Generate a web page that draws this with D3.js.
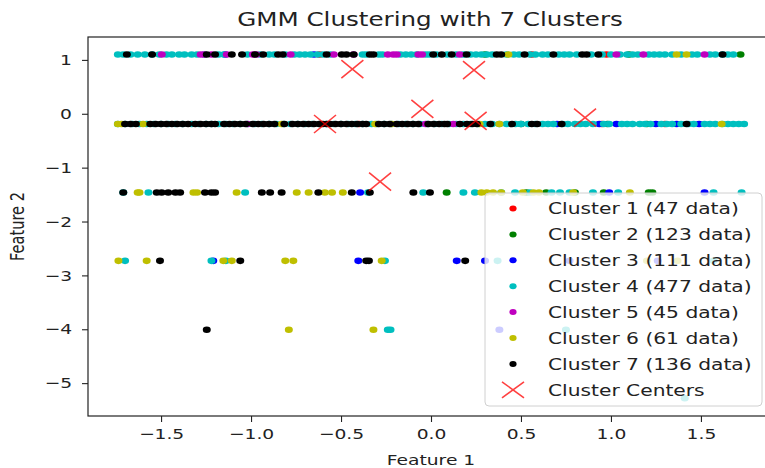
<!DOCTYPE html>
<html>
<head>
<meta charset="utf-8">
<script src="https://cdn.jsdelivr.net/npm/d3@7"></script>
<style>
  html, body { margin: 0; padding: 0; background: #fff; }
  svg { display: block; font-family: "DejaVu Sans", sans-serif; }
</style>
</head>
<body>
<svg id="chart" width="765" height="468"></svg>
<script>
// y value of each horizontal band of points
var rowY = [1.10, -0.19, -1.46, -2.73, -4.01, -5.28];

var clusterNames = ["Cluster 1", "Cluster 2", "Cluster 3", "Cluster 4", "Cluster 5", "Cluster 6", "Cluster 7"];
var clusterCounts = [47, 123, 111, 477, 45, 61, 136];
var clusterColors = ["#ff0000", "#008000", "#0000ff", "#00bfbf", "#bf00bf", "#bfbf00", "#000000"];

// x values of each cluster's points, one list per band (rowY)
var cluster1 = [
  [-0.62, 0.56, 0.975],
  [-0.40, 0.95, 1.30],
  [], [], [], []
];
var cluster2 = [
  [0.30, 1.10, 1.72],
  [0.50, 0.98, 1.20],
  [0.087, 0.53, 0.64, 0.80, 0.96, 1.21, 1.23],
  [], [], []
];
var cluster3 = [
  [-1.144, -0.65],
  [0.70, 0.935, 1.03, 1.25, 1.365, 1.49],
  [-0.394, 0.99, 1.52],
  [-1.21, -0.404, 0.143, 0.30, 0.77, 1.26],
  [0.38],
  []
];
var cluster4 = [
  [-1.74, -1.71, -1.67, -1.63, -1.59, -1.55, -1.51, -1.47, -1.44, -1.40, -1.37, -1.33, -1.30, -1.26,
   -1.18, -1.15, -1.02, -0.95, -0.90, -0.87, -0.81, -0.76, -0.73, -0.70, -0.67, -0.63, -0.60, -0.56,
   -0.38, -0.36, -0.29, -0.27, -0.17, -0.14, -0.11, -0.08, -0.03, -0.01, 0.03, 0.09, 0.14, 0.18, 0.22,
   0.25, 0.28, 0.31, 0.34, 0.42, 0.46, 0.49, 0.55, 0.58, 0.62, 0.65, 0.71, 0.74, 0.77, 0.81, 0.89,
   0.95, 1.00, 1.05, 1.09, 1.12, 1.15, 1.21, 1.24, 1.27, 1.30, 1.34, 1.39, 1.45, 1.48, 1.55, 1.58,
   1.62, 1.65, 1.68],
  [-1.74, -1.70, -1.66, -1.62, -1.58, -1.54, -1.50, -1.46, -1.42, -1.38, -1.33, -1.29, -1.25, -1.22,
   -1.18, -1.14, -1.10, -1.06, -1.02, -0.98, -0.94, -0.90, -0.86, -0.82, -0.78, -0.74, -0.70, -0.66,
   -0.62, -0.58, -0.54, -0.50, -0.46, -0.42, -0.38, -0.33, -0.30, -0.26, -0.22, -0.18, -0.14, -0.10,
   -0.06, -0.02, 0.02, 0.06, 0.10, 0.14, 0.18, 0.22, 0.26, 0.30, 0.34, 0.38, 0.42, 0.47, 0.50, 0.54,
   0.58, 0.62, 0.65, 0.68, 0.73, 0.76, 0.80, 0.83, 0.86, 0.90, 0.96, 0.99, 1.06, 1.09, 1.12, 1.16,
   1.19, 1.22, 1.28, 1.31, 1.34, 1.39, 1.43, 1.46, 1.52, 1.55, 1.58, 1.62, 1.65, 1.68, 1.71, 1.74],
  [-1.71, -1.57, -1.033, -0.35, -0.043, 0.18, 0.244, 0.39, 0.467, 0.55, 0.67, 0.717, 0.77, 0.90,
   1.04, 1.57, 1.726],
  [-1.70, -1.22, -1.14, -0.256, 0.37, 1.57],
  [-0.24, -0.225, 0.75],
  [1.41]
];
var cluster5 = [
  [-1.496, -1.28, -1.26, -1.22, -1.135, -0.99, -0.97, -0.78, -0.54, -0.43, -0.24, -0.21, -0.19,
   -0.07, -0.05, 0.16, 1.03, 1.18, 1.52],
  [-1.02, -0.03, 0.124],
  [], [], [], []
];
var cluster6 = [
  [0.43, 1.365, 1.42],
  [-1.74, -1.72, -1.60, -0.83, -0.31, -0.22, 0.27, 0.38, 1.615],
  [-1.63, -1.62, -1.32, -1.30, -1.08, -0.746, -0.68, -0.59, -0.55, -0.49, 0.28, 0.31, 0.345, 0.39,
   0.51, 0.57, 0.60, 0.79, 1.105],
  [-1.737, -1.58, -1.154, -1.107, -0.81, -0.765, -0.274, 1.20, 1.37],
  [-0.79, -0.32],
  []
];
var cluster7 = [
  [-1.69, -1.55, -1.246, -1.20, -1.107, -1.05, -0.978, -0.933, -0.85, -0.824, -0.58, -0.496, -0.47,
   -0.43, -0.34, -0.32, 0.012, 0.06, 0.115, 0.198, 0.365, 0.39, 0.52, 0.68, 0.84, 0.865, 0.93, 1.62],
  [-1.70, -1.67, -1.64, -1.56, -1.53, -1.50, -1.47, -1.44, -1.41, -1.38, -1.35, -1.31, -1.28, -1.25,
   -1.22, -1.20, -1.15, -1.12, -1.09, -1.06, -1.03, -0.99, -0.96, -0.93, -0.90, -0.87, -0.815, -0.77,
   -0.74, -0.71, -0.68, -0.65, -0.62, -0.60, -0.58, -0.56, -0.53, -0.50, -0.47, -0.44, -0.41, -0.38,
   -0.36, -0.29, -0.26, -0.23, -0.19, -0.16, -0.13, -0.10, -0.07, -0.015, 0.015, 0.045, 0.075, 0.09,
   0.16, 0.20, 0.23, 0.255, 0.33, 0.45, 0.56, 0.59, 0.726, 1.42],
  [-1.71, -1.524, -1.497, -1.46, -1.42, -1.394, -1.256, -1.22, -1.20, -0.94, -0.894, -0.83, -0.626,
   -0.44, -0.34, -0.098, -0.006],
  [-1.506, -1.06, -0.36, -0.345, 0.19],
  [-1.246],
  []
];
var clusters = [cluster1, cluster2, cluster3, cluster4, cluster5, cluster6, cluster7];

// GMM means
var centerX = [-0.437, 0.239, -0.048, 0.248, -0.589, 0.856, -0.283];
var centerY = [0.83, 0.81, 0.09, -0.13, -0.19, -0.07, -1.26];

var xTicks = [-1.5, -1.0, -0.5, 0.0, 0.5, 1.0, 1.5];
var yTicks = [1, 0, -1, -2, -3, -4, -5];

// the picture is a bit wider than tall, so text and dots are stretched sideways
var sx = 1.28;
var plotLeft = 88, plotRight = 774, plotTop = 37, plotBottom = 416;

var svg = d3.select("#chart");

var x = d3.scaleLinear().domain([-1.906, 1.906]).range([plotLeft, plotRight]);
var y = d3.scaleLinear().domain([-5.61, 1.425]).range([plotBottom, plotTop]);

var fmtMinus = function (s) { return s.replace("-", "\u2212"); };

// points, cluster 1 first so cluster 7 ends up on top
clusters.forEach(function (rows, ci) {
    var pts = [];
    rows.forEach(function (xs, ri) {
        xs.forEach(function (v) { pts.push([v, rowY[ri]]); });
    });
    svg.append("g")
        .selectAll("ellipse")
        .data(pts)
        .enter().append("ellipse")
        .attr("cx", function (d) { return x(d[0]); })
        .attr("cy", function (d) { return y(d[1]); })
        .attr("rx", 4.0)
        .attr("ry", 3.3)
        .style("fill", clusterColors[ci]);
});

// cluster centers
function drawCross(g, cx, cy, hx, hy) {
    g.append("path")
        .attr("d", "M" + (cx - hx) + "," + (cy - hy) + "L" + (cx + hx) + "," + (cy + hy) +
                   "M" + (cx - hx) + "," + (cy + hy) + "L" + (cx + hx) + "," + (cy - hy))
        .style("stroke", "#ff0000")
        .style("stroke-opacity", 0.75)
        .style("stroke-width", 1.6)
        .style("fill", "none");
}
var centers = svg.append("g");
centerX.forEach(function (cx, i) {
    drawCross(centers, x(cx), y(centerY[i]), 11, 9);
});

// axes
var xAxis = svg.append("g")
    .attr("transform", "translate(0," + plotBottom + ")")
    .call(d3.axisBottom(x).tickValues(xTicks).tickSizeOuter(0).tickSize(6).tickPadding(7)
        .tickFormat(function (d) { return fmtMinus(d3.format(".1f")(d)); }));
var yAxis = svg.append("g")
    .attr("transform", "translate(" + plotLeft + ",0)")
    .call(d3.axisLeft(y).tickValues(yTicks).tickSizeOuter(0).tickSize(6).tickPadding(10)
        .tickFormat(function (d) { return fmtMinus(d3.format("d")(d)); }));

[xAxis, yAxis].forEach(function (a) {
    a.selectAll(".domain").remove();
    a.selectAll("line").style("stroke", "#222").style("stroke-width", 1.1);
    a.selectAll("text")
        .style("font-family", "DejaVu Sans")
        .style("font-size", "14.6px")
        .style("fill", "#222");
});
xAxis.selectAll("text").attr("transform", "scale(" + sx + ",1)");
yAxis.selectAll("text")
    .attr("x", -16 / sx)
    .attr("transform", "scale(" + sx + ",1)");

// spines (right one falls just outside the picture)
var spines = svg.append("g").style("stroke", "#222").style("stroke-width", 1.2).style("fill", "none");
spines.append("rect")
    .attr("x", plotLeft).attr("y", plotTop)
    .attr("width", plotRight - plotLeft).attr("height", plotBottom - plotTop);

// legend
var legend = svg.append("g");
legend.append("rect")
    .attr("x", 485).attr("y", 193)
    .attr("width", 277).attr("height", 213)
    .attr("rx", 4)
    .style("fill", "#fff")
    .style("fill-opacity", 0.8)
    .style("stroke", "#d0d0d0")
    .style("stroke-width", 1);

var legendLabels = clusterNames.map(function (n, i) {
    return n + " (" + clusterCounts[i] + " data)";
});
legendLabels.push("Cluster Centers");

legendLabels.forEach(function (label, i) {
    var ly = 208.5 + i * 25.9;
    if (i < clusterNames.length) {
        legend.append("ellipse")
            .attr("cx", 513).attr("cy", ly)
            .attr("rx", 3.6).attr("ry", 3.0)
            .style("fill", clusterColors[i]);
    } else {
        drawCross(legend, 513, ly, 11, 8);
    }
    legend.append("text")
        .attr("transform", "translate(548," + ly + ") scale(" + sx + ",1)")
        .attr("dy", "0.36em")
        .style("font-size", "15.8px")
        .style("fill", "#222")
        .text(label);
});

// title and axis labels
svg.append("text")
    .attr("transform", "translate(430,26) scale(" + sx + ",1)")
    .attr("text-anchor", "middle")
    .style("font-size", "19.2px")
    .style("fill", "#222")
    .text("GMM Clustering with 7 Clusters");

svg.append("text")
    .attr("transform", "translate(431,465) scale(" + sx + ",1)")
    .attr("text-anchor", "middle")
    .style("font-size", "14.6px")
    .style("fill", "#222")
    .text("Feature 1");

svg.append("text")
    .attr("transform", "translate(24,226.5) rotate(-90) scale(1," + sx + ")")
    .attr("text-anchor", "middle")
    .style("font-size", "14.6px")
    .style("fill", "#222")
    .text("Feature 2");
</script>
</body>
</html>
